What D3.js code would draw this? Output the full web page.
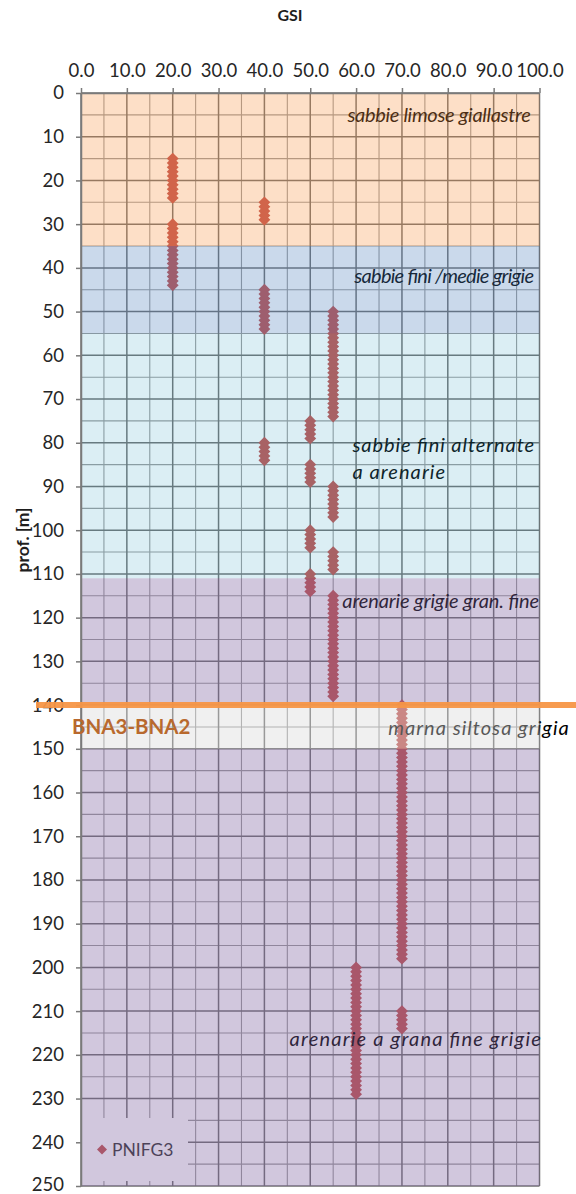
<!DOCTYPE html>
<html>
<head>
<meta charset="utf-8">
<script src="https://cdn.jsdelivr.net/npm/d3@7"></script>
<style>
  body { margin: 0; background: #ffffff; }
  svg { display: block; }
  text { font-family: Lato, "Open Sans", sans-serif; }
</style>
</head>
<body>
<svg id="chart" width="576" height="1194"></svg>
<script>
// ---- data ----------------------------------------------------------------
const chartTitle = "GSI";
const depthTitle = "prof. [m]";
const seriesName = "PNIFG3";

const xTickValues = [0, 10, 20, 30, 40, 50, 60, 70, 80, 90, 100];
const yTickValues = [0, 10, 20, 30, 40, 50, 60, 70, 80, 90, 100, 110, 120,
                     130, 140, 150, 160, 170, 180, 190, 200, 210, 220, 230, 240, 250];

// GSI value of each column of readings and the depths (m) logged at it
const gsiLevels = [20, 40, 50, 55, 60, 70];
const depthsByLevel = [
  [15, 16, 17, 18, 19, 20, 21, 22, 23, 24,
   30, 31, 32, 33, 34, 35, 36, 37, 38, 39, 40, 41, 42, 43, 44],
  [25, 26, 27, 28, 29,
   45, 46, 47, 48, 49, 50, 51, 52, 53, 54,
   80, 81, 82, 83, 84],
  [75, 76, 77, 78, 79,
   85, 86, 87, 88, 89,
   100, 101, 102, 103, 104,
   110, 111, 112, 113, 114],
  [50, 51, 52, 53, 54, 55, 56, 57, 58, 59, 60, 61, 62, 63, 64, 65, 66, 67,
   68, 69, 70, 71, 72, 73, 74,
   90, 91, 92, 93, 94, 95, 96, 97,
   105, 106, 107, 108, 109,
   115, 116, 117, 118, 119, 120, 121, 122, 123, 124, 125, 126, 127, 128,
   129, 130, 131, 132, 133, 134, 135, 136, 137, 138],
  [200, 201, 202, 203, 204, 205, 206, 207, 208, 209, 210, 211, 212, 213, 214,
   215, 216, 217, 218, 219, 220, 221, 222, 223, 224, 225, 226, 227, 228, 229],
  [140, 141, 142, 143, 144, 145, 146, 147, 148, 149, 150, 151, 152, 153, 154,
   155, 156, 157, 158, 159, 160, 161, 162, 163, 164, 165, 166, 167, 168, 169,
   170, 171, 172, 173, 174, 175, 176, 177, 178, 179, 180, 181, 182, 183, 184,
   185, 186, 187, 188, 189, 190, 191, 192, 193, 194, 195, 196, 197, 198,
   210, 211, 212, 213, 214]
];

// lithological layers (depth range in m)
const layerTop    = [0, 35, 55, 111, 140, 150];
const layerBottom = [35, 55, 111, 140, 150, 250];
const layerFill   = ["#F79646", "#4F81BD", "#4BACC6", "#8064A2", "#D9D9D9", "#8064A2"];
const layerAlpha  = [0.3, 0.3, 0.2, 0.36, 0.4, 0.36];

// layer descriptions: text lines, anchor GSI and depth of the first baseline
const layerNotes  = [
  ["sabbie limose giallastre"],
  ["sabbie fini /medie grigie"],
  ["sabbie fini alternate", "a arenarie"],
  ["arenarie grigie gran. fine"],
  ["marna siltosa grigia"],
  ["arenarie a grana fine grigie"]
];
const noteGSI   = [58.1, 59.6, 59.2, 57.0, 67.0, 45.5];
const noteDepth = [6.6, 43.4, 82.2, 117.8, 146.8, 218.0];
// set width of every line, in GSI units
const noteSpan  = [[40.0], [39.2], [39.6, 20.2], [42.9], [39.4], [54.8]];

// formation boundary
const boundaryDepth = 140;
const boundaryLabel = "BNA3-BNA2";

// ---- layout --------------------------------------------------------------
const svg = d3.select("#chart");
const x = d3.scaleLinear().domain([0, 100]).range([81, 539.5]);
const y = d3.scaleLinear().domain([0, 250]).range([93, 1186]);
const kx = x(1) - x(0);

const minorX = d3.range(0, 101, 5).filter(v => v % 10 !== 0);
const minorY = d3.range(0, 251, 5).filter(v => v % 10 !== 0);

// ---- grid ----------------------------------------------------------------
const grid = svg.append("g");
grid.selectAll("line.vminor").data(minorX).join("line")
  .attr("x1", d => x(d)).attr("x2", d => x(d))
  .attr("y1", y(0)).attr("y2", y(250))
  .attr("stroke", "#9a9a9a").attr("stroke-width", 1.1);
grid.selectAll("line.hminor").data(minorY).join("line")
  .attr("x1", x(0)).attr("x2", x(100))
  .attr("y1", d => y(d)).attr("y2", d => y(d))
  .attr("stroke", "#9a9a9a").attr("stroke-width", 1.1);
grid.selectAll("line.vmajor").data(xTickValues).join("line")
  .attr("x1", d => x(d)).attr("x2", d => x(d))
  .attr("y1", y(0)).attr("y2", y(250))
  .attr("stroke", "#6e6e6e").attr("stroke-width", 1.5);
grid.selectAll("line.hmajor").data(yTickValues).join("line")
  .attr("x1", x(0)).attr("x2", x(100))
  .attr("y1", d => y(d)).attr("y2", d => y(d))
  .attr("stroke", "#6e6e6e").attr("stroke-width", 1.5);

// ---- readings ------------------------------------------------------------
const points = [];
gsiLevels.forEach((g, i) => depthsByLevel[i].forEach(d => points.push({ gsi: g, depth: d })));

const diamond = d3.symbol().type(d3.symbolSquare).size(70);
svg.append("g").selectAll("path").data(points).join("path")
  .attr("d", diamond)
  .attr("transform", d => `translate(${x(d.gsi)},${y(d.depth)}) rotate(45)`)
  .attr("fill", "#C0504D");

// ---- legend --------------------------------------------------------------
const legend = svg.append("g");
legend.append("rect")
  .attr("x", x(0) + 0.8).attr("y", 1118)
  .attr("width", 188 - x(0) - 0.8).attr("height", 63)
  .attr("fill", "#ffffff");
legend.append("path")
  .attr("d", d3.symbol().type(d3.symbolSquare).size(50))
  .attr("transform", "translate(102,1149.5) rotate(45)")
  .attr("fill", "#C0504D");
legend.append("text")
  .attr("x", 112).attr("y", 1156)
  .attr("font-size", 17.5).attr("fill", "#303030")
  .text(seriesName);

// ---- layer descriptions ------------------------------------------------
const notes = svg.append("g");
layerNotes.forEach((lines, i) => {
  lines.forEach((line, k) => {
    notes.append("text")
      .attr("x", x(noteGSI[i]))
      .attr("y", y(noteDepth[i]) + k * 26.5)
      .attr("font-size", 20).attr("font-style", "italic")
      .attr("fill", "#000000")
      .attr("textLength", noteSpan[i][k] * kx)
      .attr("lengthAdjust", "spacing")
      .text(line);
  });
});

// ---- layer fills (translucent, over grid and readings) ------------------
svg.append("g").selectAll("rect").data(layerTop).join("rect")
  .attr("x", x(0)).attr("width", x(100) - x(0))
  .attr("y", (d, i) => y(d))
  .attr("height", (d, i) => y(layerBottom[i]) - y(d))
  .attr("fill", (d, i) => layerFill[i])
  .attr("fill-opacity", (d, i) => layerAlpha[i]);

// ---- axes ----------------------------------------------------------------
const yAxis = svg.append("g")
  .attr("transform", `translate(${x(0)},0)`)
  .call(d3.axisLeft(y).tickValues(yTickValues).tickSize(5).tickSizeOuter(0)
    .tickPadding(12).tickFormat(d3.format("d")));
yAxis.select(".domain").attr("stroke", "#7a7a7a").attr("stroke-width", 1.5);
yAxis.selectAll(".tick line").attr("stroke", "#7a7a7a").attr("stroke-width", 1.5);
yAxis.selectAll(".tick text").attr("font-size", 18.5).attr("fill", "#262626")
  .attr("font-family", "Lato, sans-serif")
  .attr("dy", d => d === 250 ? "0.25em" : "0.32em");

const xAxis = svg.append("g")
  .attr("transform", `translate(0,${y(0)})`)
  .call(d3.axisTop(x).tickValues(xTickValues).tickSize(5).tickSizeOuter(0)
    .tickPadding(11).tickFormat(d3.format(".1f")));
xAxis.select(".domain").attr("stroke", "#7a7a7a").attr("stroke-width", 1.5);
xAxis.selectAll(".tick line").attr("stroke", "#7a7a7a").attr("stroke-width", 1.5);
xAxis.selectAll(".tick text").attr("font-size", 18.5).attr("fill", "#262626")
  .attr("font-family", "Lato, sans-serif");

// ---- formation boundary --------------------------------------------------
svg.append("line")
  .attr("x1", 36).attr("x2", 576)
  .attr("y1", y(boundaryDepth)).attr("y2", y(boundaryDepth))
  .attr("stroke", "#F79646").attr("stroke-width", 6).attr("stroke-opacity", 0.95);
svg.append("text")
  .attr("x", 72).attr("y", y(boundaryDepth) + 29)
  .attr("font-size", 20.5).attr("font-weight", "bold")
  .attr("fill", "#B8692E")
  .text(boundaryLabel);

// ---- titles --------------------------------------------------------------
svg.append("text")
  .attr("x", 290).attr("y", 21)
  .attr("text-anchor", "middle")
  .attr("font-size", 16).attr("font-weight", "bold").attr("fill", "#1e1e1e")
  .text(chartTitle);
svg.append("text")
  .attr("transform", `translate(29,${540}) rotate(-90)`)
  .attr("text-anchor", "middle")
  .attr("font-size", 17.5).attr("font-weight", "bold").attr("fill", "#1e1e1e")
  .text(depthTitle);
</script>
</body>
</html>
